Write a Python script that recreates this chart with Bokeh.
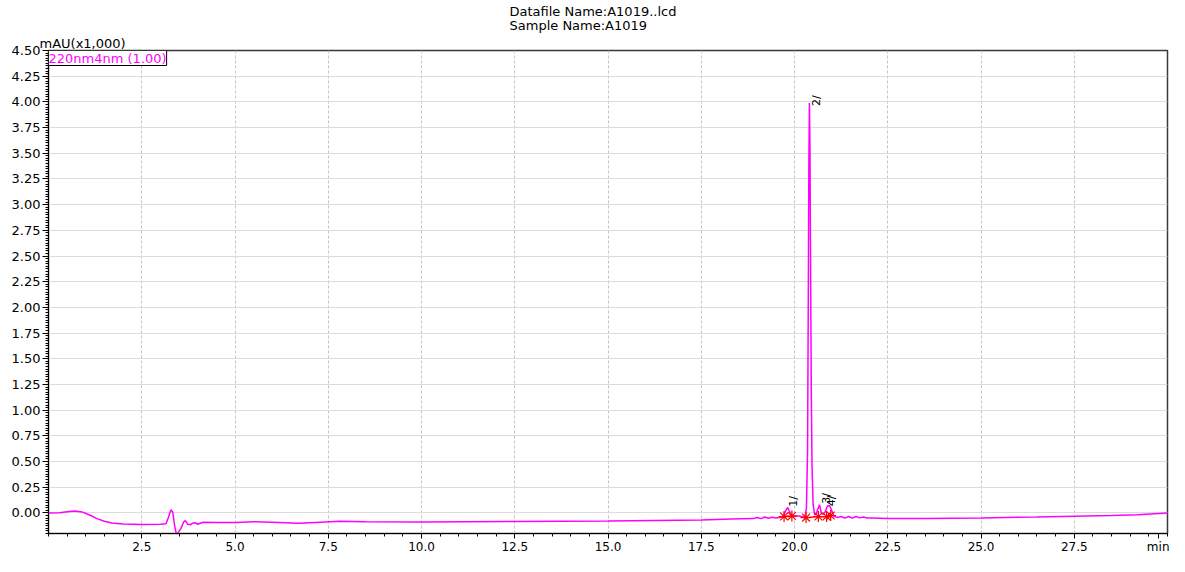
import numpy as np
from bokeh.plotting import figure
from bokeh.models import Range1d, FixedTicker, PrintfTickFormatter, Label, Title, ColumnDataSource
from bokeh.core.properties import value
from bokeh.embed import file_html
from bokeh.resources import INLINE

# ---- data ----
time_min = [0.0, 0.3, 0.5, 0.7, 0.9, 1.1, 1.3, 1.5, 1.7, 2.0, 2.5, 3.0, 3.15, 3.22, 3.28,
            3.33, 3.38, 3.43, 3.48, 3.55, 3.62, 3.67, 3.73, 3.8, 3.87, 3.93, 4.0, 4.07,
            4.15, 4.5, 5.0, 5.5, 6.0, 6.7, 7.3, 7.8, 8.5, 10.0, 12.5, 15.0, 17.5, 18.3,
            18.9, 19.0, 19.1, 19.2, 19.3, 19.4, 19.5, 19.6, 19.7, 19.76, 19.82, 19.87,
            19.92, 20.0, 20.1, 20.2, 20.28, 20.32, 20.35, 20.37, 20.385, 20.40, 20.415,
            20.43, 20.45, 20.47, 20.50, 20.54, 20.58, 20.62, 20.67, 20.72, 20.77, 20.82,
            20.88, 20.94, 20.99, 21.05, 21.15, 21.25, 21.35, 21.45, 21.55, 21.65, 21.75,
            21.85, 21.95, 22.1, 22.5, 23.5, 25.0, 26.5, 27.5, 28.5, 29.2, 30.0]
signal = [0.0, 0.002, 0.012, 0.02, 0.01, -0.02, -0.055, -0.08, -0.097, -0.108, -0.112, -0.11,
          -0.105, -0.04, 0.03, 0.01, -0.12, -0.21, -0.19, -0.15, -0.09, -0.075, -0.11,
          -0.115, -0.1, -0.095, -0.11, -0.1, -0.09, -0.092, -0.092, -0.086, -0.09, -0.1,
          -0.09, -0.082, -0.085, -0.087, -0.083, -0.078, -0.068, -0.06, -0.055, -0.045,
          -0.055, -0.04, -0.052, -0.042, -0.05, -0.044, -0.035, 0.02, 0.053, 0.01, -0.025,
          -0.03, -0.03, -0.035, -0.045, 0.05, 0.6, 2.1, 3.4, 3.99, 3.55, 2.5, 1.2, 0.45,
          0.08, -0.02, -0.01, 0.03, 0.08, 0.0, -0.015, 0.01, 0.065, 0.072, 0.03, -0.03,
          -0.045, -0.035, -0.05, -0.035, -0.05, -0.034, -0.048, -0.04, -0.05, -0.05,
          -0.055, -0.053, -0.048, -0.04, -0.031, -0.025, -0.017, 0.0]

# peak labels (rotated)
peak_names = ["1/", "2/", "3/", "4/"]
label_t = [19.97, 20.60, 20.85, 20.99]
label_y = [0.06, 3.96, 0.09, 0.065]

# integration marks (peak start / end) and baselines
mark_t = [19.72, 19.93, 20.31, 20.64, 20.86, 20.97]
mark_y = [-0.035, -0.03, -0.045, -0.035, -0.035, -0.025]
base1_t = [19.72, 19.93]
base1_y = [-0.035, -0.03]
base2_t = [20.31, 20.64, 20.86, 20.97]
base2_y = [-0.045, -0.035, -0.035, -0.025]

x_ticks = [2.5, 5.0, 7.5, 10.0, 12.5, 15.0, 17.5, 20.0, 22.5, 25.0, 27.5]
x_unit_pos = 29.76
x_minor = [i * 0.5 for i in range(0, 61)]
y_ticks = [i * 0.25 for i in range(0, 19)]
y_minor = [round(-0.2 + i * 0.025, 3) for i in range(0, 189)]

title_lines = ["Datafile Name:A1019..lcd", "Sample Name:A1019"]
y_unit = "mAU(x1,000)"
x_unit = "min"
trace_name = "220nm4nm (1.00)"

FONT = "DejaVu Sans"
MAGENTA = "#ff00ff"

p = figure(width=1169, height=556, x_range=Range1d(0, 30), y_range=Range1d(-0.2, 4.5),
           output_backend="svg", toolbar_location=None,
           min_border_left=48, min_border_top=49, min_border_right=2, min_border_bottom=0)
p.background_fill_color = "white"
p.border_fill_color = "white"
p.outline_line_color = "#3a3a3a"
p.outline_line_width = 1.5

# axes
p.xaxis.ticker = FixedTicker(ticks=x_ticks + [x_unit_pos], minor_ticks=x_minor)
p.xaxis.major_label_overrides = {x_unit_pos: x_unit}
p.yaxis.ticker = FixedTicker(ticks=y_ticks, minor_ticks=y_minor)
p.xaxis.formatter = PrintfTickFormatter(format="%.1f")
p.yaxis.formatter = PrintfTickFormatter(format="%.2f")
for ax in (p.xaxis, p.yaxis):
    ax.axis_line_color = "black"
    ax.axis_line_width = 1
    ax.major_tick_line_color = "black"
    ax.minor_tick_line_color = "black"
    ax.major_tick_in = 0
    ax.minor_tick_in = 0
    ax.major_label_text_font = FONT
    ax.major_label_text_color = "black"
p.xaxis.major_label_text_font_size = "12px"
p.yaxis.major_label_text_font_size = "13px"
p.xaxis.major_tick_out = 5
p.xaxis.minor_tick_out = 3
p.xaxis.major_label_standoff = 1
p.yaxis.major_tick_out = 6
p.yaxis.minor_tick_out = 3
p.yaxis.major_label_standoff = 2

# grids
p.xgrid.ticker = FixedTicker(ticks=x_ticks)
p.xgrid.grid_line_color = "#c4c4c4"
p.xgrid.grid_line_dash = "3 2"
p.xgrid.grid_line_width = 1
p.ygrid.grid_line_color = "#dcdcdc"
p.ygrid.grid_line_width = 1

# header texts (stacked above the frame: first added is nearest)
p.add_layout(Title(text=y_unit, align="left", offset=-9, text_font=FONT,
                   text_font_size="13px", text_font_style="normal", text_color="black",
                   standoff=0), "above")
p.add_layout(Title(text="\n".join(title_lines), align="left", offset=461, text_font=FONT,
                   text_font_size="13px", text_font_style="normal", text_color="black",
                   text_line_height=0.9, standoff=2), "above")

# trace
src = ColumnDataSource(dict(t=time_min, s=signal))
p.line("t", "s", source=src, line_color=MAGENTA, line_width=1.5)

# integration baselines and marks
p.line(base1_t, base1_y, line_color="red", line_width=1.2)
p.line(base2_t, base2_y, line_color="red", line_width=1.2)
p.scatter(mark_t, mark_y, marker="asterisk", size=11, line_color="red", line_width=1.2)

# peak labels
lab_src = ColumnDataSource(dict(t=label_t, y=label_y, txt=peak_names))
p.text("t", "y", text="txt", source=lab_src, angle=np.pi / 2,
       text_font=value(FONT), text_font_size="11px", text_color="black",
       text_align="left", text_baseline="middle")

# trace name box
p.add_layout(Label(x=0.0, y=4.5, text=trace_name, text_font=FONT, text_font_size="13px",
                   text_color=MAGENTA, text_align="left", text_baseline="top",
                   border_line_color="black", border_line_width=1,
                   background_fill_color="white"))

open("out.html", "w").write(file_html(p, INLINE))
